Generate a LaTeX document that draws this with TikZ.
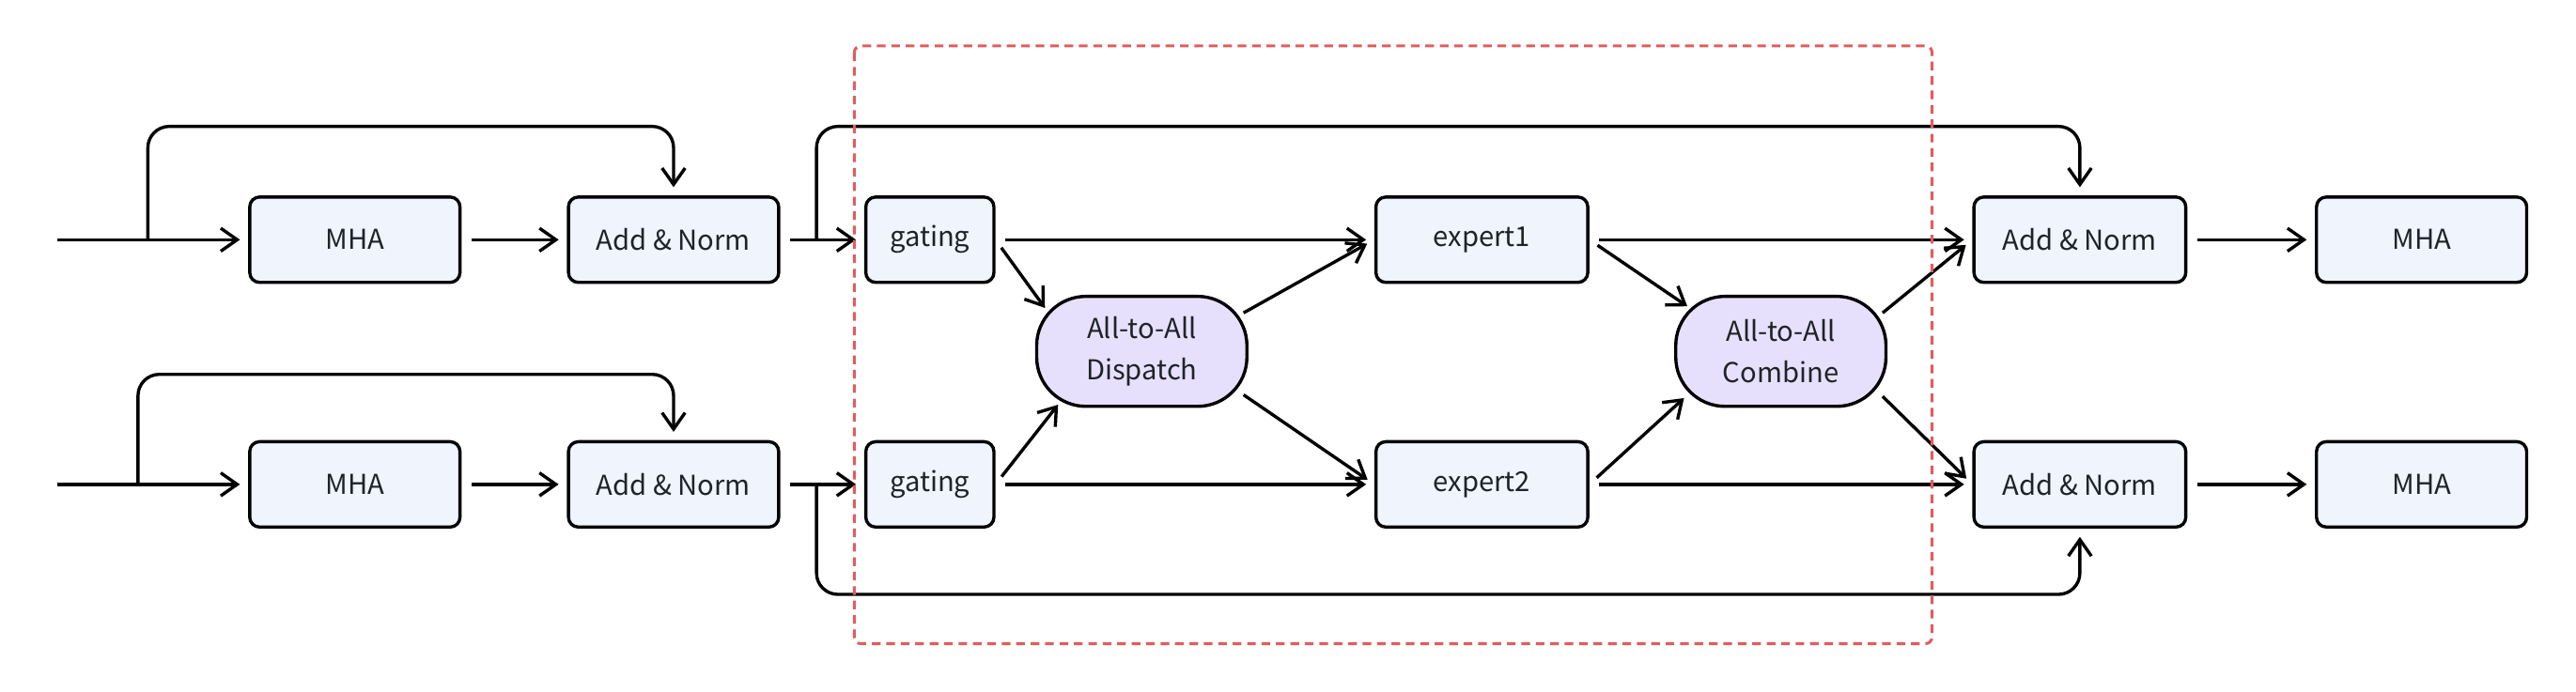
\documentclass[tikz,border=0pt]{standalone}
\usepackage{fontspec}
\setmainfont{Noto Sans CJK SC}
\usetikzlibrary{arrows.meta}
\definecolor{boxfill}{HTML}{EFF4FD}
\definecolor{commfill}{HTML}{E7E0FC}
\definecolor{txt}{HTML}{1F2329}
\definecolor{moered}{HTML}{E05D5D}
\tikzset{
  block/.style={draw, line width=1.1pt, rounded corners=0.12cm, fill=boxfill, text=txt,
    minimum height=1.04cm, minimum width=2.56cm, font=\fontsize{9.5}{12}\selectfont},
  comm/.style={draw, line width=1.1pt, rounded corners=0.6cm, fill=commfill, text=txt,
    minimum width=2.56cm, minimum height=1.34cm, align=center, font=\fontsize{9.5}{14.5}\selectfont},
  conn/.style={line width=1.1pt, -{Straight Barb[length=0.2cm, width=0.28cm]},
    shorten <=0.12cm, shorten >=0.1cm},
  skip/.style={conn, shorten <=0pt, rounded corners=0.26cm},
}
\begin{document}
\begin{tikzpicture}[x=0.02cm, y=-0.02cm]
\useasboundingbox (0,0) rectangle (1568,421);
% two token rows
\foreach \r/\y/\bx/\e in {A/146/90/1, B/295/84/2}
{
  \coordinate (in\r) at (29,\y);
  \coordinate (br\r) at (\bx,\y);
  \coordinate (tap\r) at (497,\y);
  \node[block] (mha\r) at (216,\y) {MHA};
  \node[block] (add\r) at (410,\y) {Add \& Norm};
  \node[block, minimum width=1.56cm] (gate\r) at (566,\y) {gating};
  \node[block, minimum width=2.58cm] (exp\r) at (902,\y) {expert\e};
  \node[block, minimum width=2.58cm] (addOut\r) at (1266,\y) {Add \& Norm};
  \node[block] (mhaOut\r) at (1474,\y) {MHA};
  \draw[conn] (in\r) -- (mha\r);
  \draw[conn] (mha\r) -- (add\r);
  \draw[conn] (add\r) -- (gate\r);
  \draw[conn] (gate\r) -- (exp\r);
  \draw[conn] (exp\r) -- (addOut\r);
  \draw[conn] (addOut\r) -- (mhaOut\r);
}
\node[comm] (dispatch) at (695,214) {All-to-All\\Dispatch};
\node[comm] (combine) at (1084,214) {All-to-All\\Combine};
% residual paths
\draw[skip] (brA) -- ++(0,-69) -| (addA.north);
\draw[skip] (brB) -- ++(0,-67) -| (addB.north);
\draw[skip] (tapA) -- ++(0,-69) -| (addOutA.north);
\draw[skip] (tapB) -- ++(0,67) -| (addOutB.south);
% all-to-all
\draw[conn, shorten >=0pt] (gateA.east) -- ([shift={(6,8)}]dispatch.north west);
\draw[conn, shorten >=0pt] (gateB.east) -- ([shift={(14,-2)}]dispatch.south west);
\draw[conn, shorten <=0pt] ([shift={(-3,11)}]dispatch.north east) -- (expA.west);
\draw[conn, shorten <=0pt] ([shift={(-3,-8)}]dispatch.south east) -- (expB.west);
\draw[conn, shorten >=0pt] (expA.east) -- ([shift={(8,7)}]combine.north west);
\draw[conn, shorten >=0pt] (expB.east) -- ([shift={(6,-6)}]combine.south west);
\draw[conn, shorten <=0pt] ([shift={(-3,11)}]combine.north east) -- (addOutA.west);
\draw[conn, shorten <=0pt] ([shift={(-3,-7)}]combine.south east) -- (addOutB.west);
% MoE layer
\draw[moered, line width=1pt, dash pattern=on 3pt off 2pt, rounded corners=0.08cm]
  (520,28) rectangle (1176,392);
\end{tikzpicture}
\end{document}
